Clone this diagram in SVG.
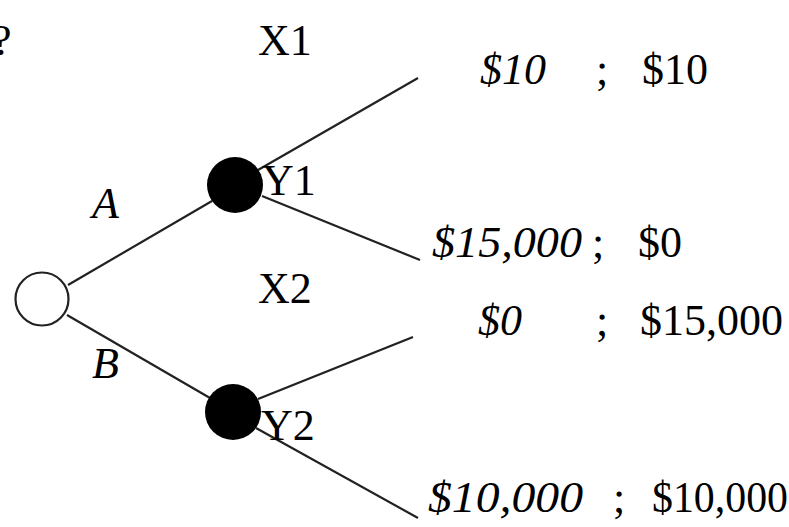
<svg xmlns="http://www.w3.org/2000/svg" width="789" height="527" viewBox="0 0 789 527">
  <style>
    .t { font-family: "Liberation Serif", "Times New Roman", serif; font-size: 44px; fill: #000; }
    .i { font-style: italic; }
    .edge { stroke: #222; stroke-width: 2.2; fill: none; }
  </style>
  <rect width="789" height="527" fill="#fff"/>

  <!-- question mark, clipped at the left edge -->
  <text class="t" x="-8" y="55">?</text>

  <g id="connectors">
    <line class="edge" x1="68" y1="285" x2="212" y2="201"/>
    <line class="edge" x1="67" y1="315" x2="210" y2="398"/>
    <line class="edge" x1="258" y1="170" x2="418" y2="78"/>
    <line class="edge" x1="262" y1="196" x2="420" y2="260"/>
    <line class="edge" x1="258" y1="399" x2="413" y2="337"/>
    <line class="edge" x1="256" y1="428" x2="418" y2="518"/>
  </g>

  <g id="root">
    <circle cx="42" cy="299" r="26.5" fill="#fff" stroke="#222" stroke-width="2.2"/>
  </g>
  <g id="y1">
    <circle cx="235" cy="185" r="28" fill="#000"/>
    <text class="t" x="262" y="195">Y1</text>
  </g>
  <g id="y2">
    <circle cx="233" cy="412" r="28" fill="#000"/>
    <text class="t" x="261" y="440">Y2</text>
  </g>

  <g id="labels">
    <text class="t i" x="92" y="218">A</text>
    <text class="t i" x="92" y="378">B</text>
    <text class="t" x="258" y="55">X1</text>
    <text class="t" x="258" y="303">X2</text>
  </g>

  <g id="payoffs">
    <text class="t i" x="480" y="84">$10</text>
    <text class="t" x="596" y="84">;</text>
    <text class="t" x="642" y="84">$10</text>

    <text class="t i" x="432" y="257" textLength="150" lengthAdjust="spacingAndGlyphs">$15,000</text>
    <text class="t" x="592" y="257">;</text>
    <text class="t" x="638" y="257">$0</text>

    <text class="t i" x="478" y="335">$0</text>
    <text class="t" x="596" y="335">;</text>
    <text class="t" x="640" y="335">$15,000</text>

    <text class="t i" x="428" y="512" textLength="155" lengthAdjust="spacingAndGlyphs">$10,000</text>
    <text class="t" x="613" y="512">;</text>
    <text class="t" x="652" y="512" textLength="136" lengthAdjust="spacingAndGlyphs">$10,000</text>
  </g>
</svg>
